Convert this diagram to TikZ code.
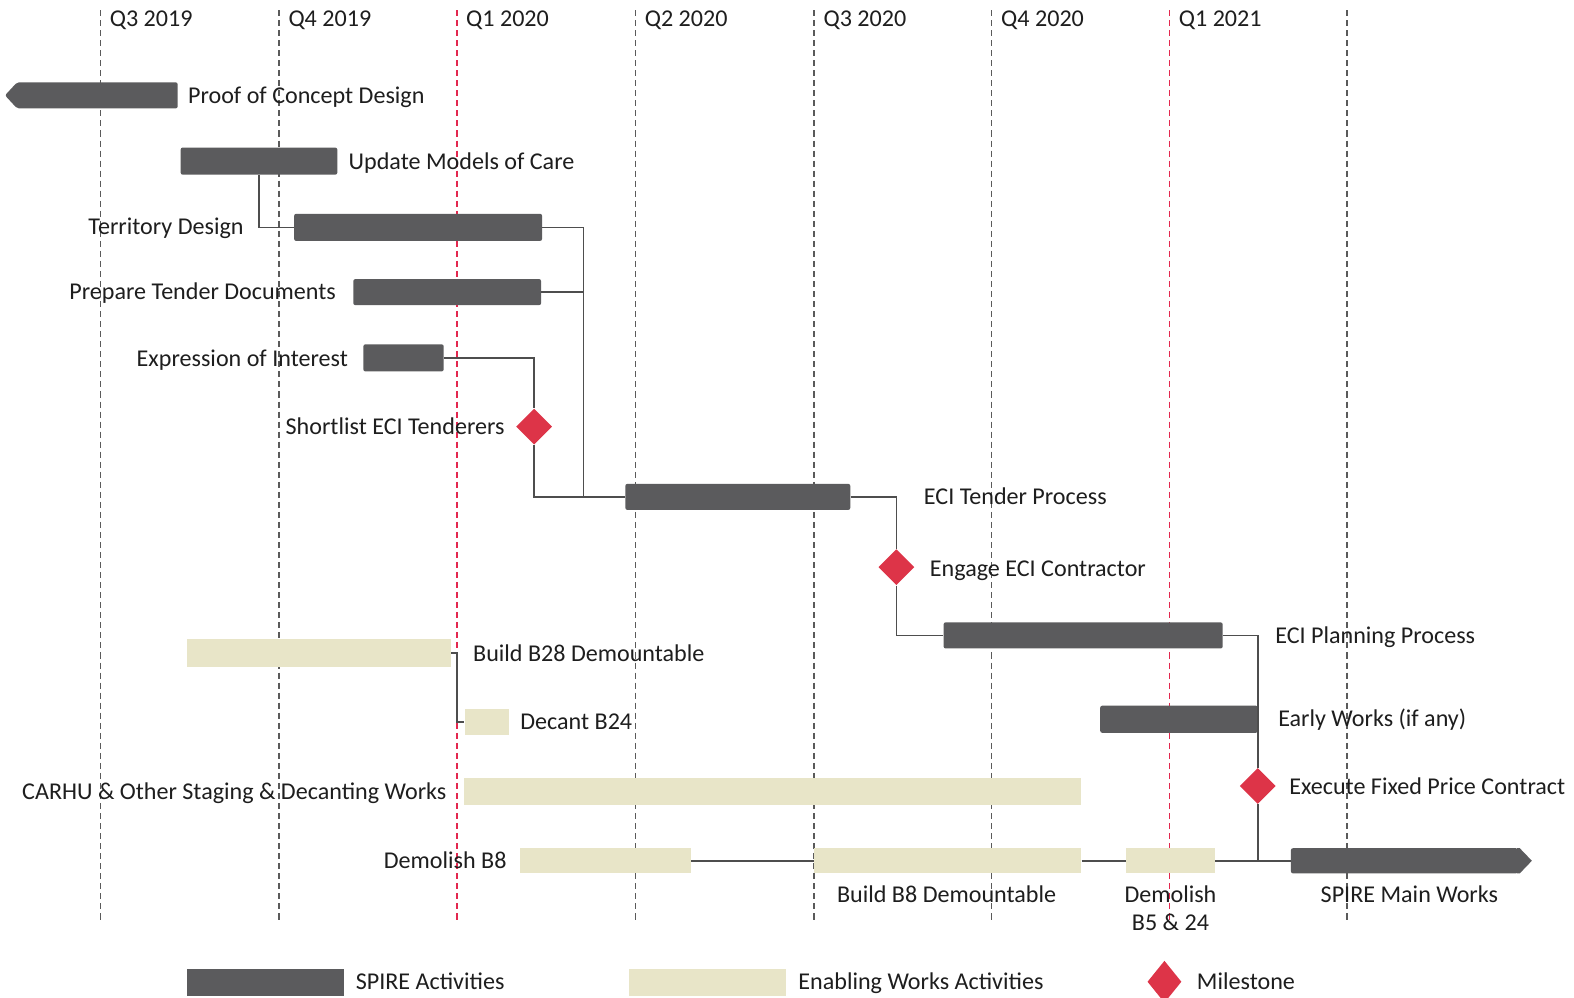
\documentclass[tikz,border=0pt]{standalone}
\usepackage{fontspec}
\setmainfont{Carlito}
\usetikzlibrary{fit,shapes.geometric}

\definecolor{spiregray}{HTML}{5B5B5D}
\definecolor{enabbeige}{HTML}{E8E5C8}
\definecolor{msred}{HTML}{DD3448}
\definecolor{qred}{HTML}{E3284F}
\definecolor{qgray}{HTML}{5A5A5A}
\definecolor{linkgray}{HTML}{4E4E4E}
\definecolor{txt}{HTML}{1E1E1E}

\begin{document}
\begin{tikzpicture}[x=0.5pt,y=-0.5pt,
  font=\fontsize{12pt}{14pt}\selectfont,
  spire/.style={fill=spiregray, rounded corners=1pt, inner sep=0pt, draw=none},
  enab/.style={fill=enabbeige, inner sep=0pt, draw=none},
  ms/.style={diamond, fill=msred, inner sep=0pt, minimum width=18pt, minimum height=18pt},
  lbl/.style={inner sep=0pt, text height=7.7pt, text depth=0pt, text=txt},
  link/.style={draw=linkgray, line width=0.8pt},
  qline/.style={draw=qgray, line width=0.7pt, dash pattern=on 3pt off 2pt},
  qlinered/.style={draw=qred, line width=0.9pt, dash pattern=on 3pt off 2pt}]

\useasboundingbox[fill=white] (0,0) rectangle (1568,994);

% quarter grid lines and headings
\foreach \x/\q/\r in {100/Q3 2019/0, 278/Q4 2019/0, 455/Q1 2020/1, 633/Q2 2020/0,
                      811/Q3 2020/0, 988/Q4 2020/0, 1165/Q1 2021/1}{
  \ifnum\r=1
    \draw[qlinered] (\x,10) -- (\x,918);
  \else
    \draw[qline] (\x,10) -- (\x,918);
  \fi
  \node[lbl, anchor=west] (q\x) at (\x+9,19) {\q};
}
\draw[qline] (1342,10) -- (1342,918);

% SPIRE activity bars
\fill[spiregray, rounded corners=1pt] (177,82) -- (17,82) -- (5,95) -- (17,108) -- (177,108) -- cycle;
\node[spire, fit={(180,147) (336,174)}] (umc) {};
\node[spire, fit={(293,213) (540,240)}] (td) {};
\node[spire, fit={(352,278) (539,304)}] (ptd) {};
\node[spire, fit={(362,343) (442,370)}] (eoi) {};
\node[spire, fit={(623,482) (847,508)}] (eci) {};
\node[spire, fit={(940,620) (1218,646)}] (ecip) {};
\node[spire, fit={(1096,703) (1253,730)}] (ew) {};
\node[spire, fit={(1286,845) (1512,870)}] (smw) {};
\fill[spiregray] (1511,845) -- (1514,845) -- (1526,857.5) -- (1514,870) -- (1511,870) -- cycle;

% enabling works bars
\node[enab, fit={(186,637) (449,664)}] (b28) {};
\node[enab, fit={(463,706) (507,732)}] (db24) {};
\node[enab, fit={(462,775) (1077,802)}] (carhu) {};
\node[enab, fit={(518,845) (688,870)}] (db8) {};
\node[enab, fit={(811,845) (1077,870)}] (bb8) {};
\node[enab, fit={(1122,845) (1210,870)}] (db5) {};

% milestones
\node[ms] (sl) at (532,425) {};
\node[ms] (ec) at (893,565) {};
\node[ms] (efp) at (1253,783) {};

% dependency links
\path (td.east) ++(41,0) coordinate (tdbus);
\draw[link] (umc.south) |- (td.west);
\draw[link] (td.east) -- (tdbus) |- (eci.west);
\draw[link] (ptd.east) -- (ptd.east -| tdbus);
\draw[link] (eoi.east) -| (sl.north);
\draw[link] (sl.south) |- (eci.west);
\draw[link] (eci.east) -| (ec.north);
\draw[link] (ec.south) |- (ecip.west);
\draw[link] (ecip.east) -| (efp.north);
\draw[link] (efp.south) -- (efp.south |- smw.west);
\draw[link] (b28.east) -- ++(6,0) |- (db24.west);
\draw[link] (db8.east) -- (bb8.west);
\draw[link] (bb8.east) -- (db5.west);
\draw[link] (db5.east) -- (smw.west);

% task labels
\node[lbl, anchor=west] (lpcd) at (187,95) {Proof of Concept Design};
\node[lbl, anchor=west] (lumc) at (347,161) {Update Models of Care};
\node[lbl, anchor=east] (ltd) at (243,226) {Territory Design};
\node[lbl, anchor=east] (lptd) at (335,291) {Prepare Tender Documents};
\node[lbl, anchor=east] (leoi) at (347,357) {Expression of Interest};
\node[lbl, anchor=east] (lsl) at (503,425) {Shortlist ECI Tenderers};
\node[lbl, anchor=west] (leci) at (920,495) {ECI Tender Process};
\node[lbl, anchor=west] (lec) at (926,567) {Engage ECI Contractor};
\node[lbl, anchor=west] (lecip) at (1270,633) {ECI Planning Process};
\node[lbl, anchor=west] (lew) at (1273,716) {Early Works (if any)};
\node[lbl, anchor=west] (lefp) at (1284,784) {Execute Fixed Price Contract};
\node[lbl, anchor=west] (lb28) at (471,651) {Build B28 Demountable};
\node[lbl, anchor=west] (ldb24) at (518,719) {Decant B24};
\node[lbl, anchor=east] (lcarhu) at (445,789) {CARHU \& Other Staging \& Decanting Works};
\node[lbl, anchor=east] (ldb8) at (505,857) {Demolish B8};
\node[lbl] (lbb8) at (943,891) {Build B8 Demountable};
\node[lbl] (ldb5a) at (1166,891) {Demolish};
\node[lbl] (ldb5b) at (1166,919) {B5 \& 24};
\node[lbl] (lsmw) at (1404,891) {SPIRE Main Works};

% legend
\node[spire, rounded corners=0pt, fit={(186,965) (343,992)}] (legs) {};
\node[lbl, anchor=west] (leglbls) at (354,978) {SPIRE Activities};
\node[enab, fit={(627,965) (783,992)}] (lege) {};
\node[lbl, anchor=west] (leglble) at (795,978) {Enabling Works Activities};
\node[ms, minimum width=17pt, minimum height=21pt] (legm) at (1160,978) {};
\node[lbl, anchor=west] (leglblm) at (1192,978) {Milestone};

\end{tikzpicture}
\end{document}
